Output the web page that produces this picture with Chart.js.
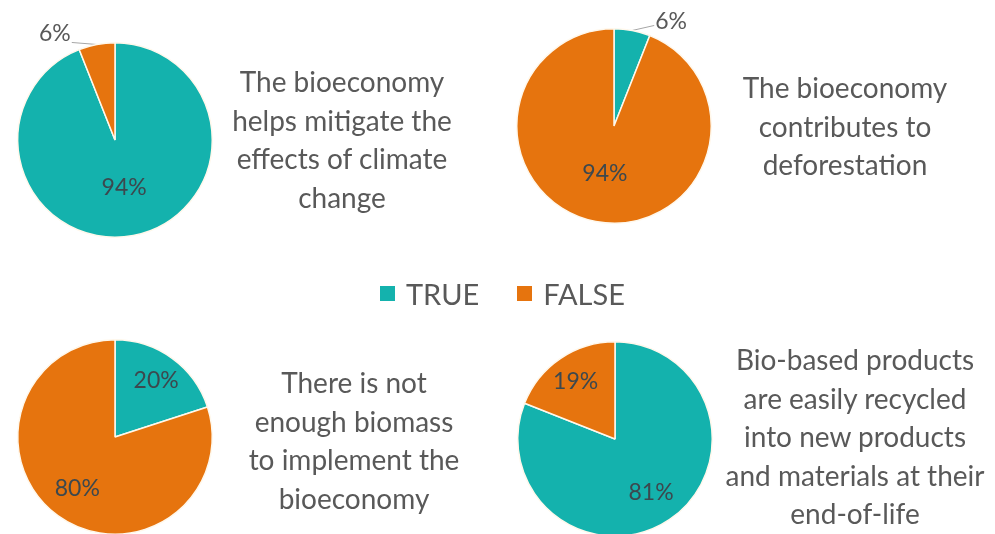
<!DOCTYPE html>
<html><head><meta charset="utf-8">
<script src="https://cdn.jsdelivr.net/npm/chart.js@4"></script>
<style>
html,body{margin:0;padding:0;background:#fff;width:995px;height:534px;overflow:hidden;position:relative;font-family:Lato,sans-serif;}
.pie{position:absolute;width:280px;height:280px;}
.txt{position:absolute;width:340px;text-align:center;color:#595959;font-size:28px;line-height:38.5px;}
#legend{position:absolute;left:5px;width:995px;top:273px;height:40px;display:flex;justify-content:center;align-items:center;color:#595959;font-size:29px;}
#legend span.sw{display:inline-block;width:15px;height:15px;margin-right:11px;}
#legend .item{display:flex;align-items:center;margin:0 19px;}
</style></head>
<body>
<canvas id="c1" class="pie" width="280" height="280" style="left:-25px;top:0px"></canvas>
<canvas id="c2" class="pie" width="280" height="280" style="left:474px;top:-14px"></canvas>
<canvas id="c3" class="pie" width="280" height="280" style="left:-25px;top:297px"></canvas>
<canvas id="c4" class="pie" width="280" height="280" style="left:475px;top:299px"></canvas>
<div class="txt" id="t1" style="left:172px;top:62px"></div>
<div class="txt" id="t2" style="left:675px;top:68px"></div>
<div class="txt" id="t3" style="left:184px;top:363px"></div>
<div class="txt" id="t4" style="left:685px;top:340px"></div>
<div id="legend"></div>
<script>
const categories = ["TRUE", "FALSE"];
const colors = ["#14B2AD", "#E6740E"];
const statements = [
  ["The bioeconomy", "helps mitigate the", "effects of climate", "change"],
  ["The bioeconomy", "contributes to", "deforestation"],
  ["There is not", "enough biomass", "to implement the", "bioeconomy"],
  ["Bio-based products", "are easily recycled", "into new products", "and materials at their", "end-of-life"]
];
const valuesMitigate = [94, 6];
const valuesDeforest = [6, 94];
const valuesBiomass = [20, 80];
const valuesRecycled = [81, 19];
const allValues = [valuesMitigate, valuesDeforest, valuesBiomass, valuesRecycled];

statements.forEach((lines, i) => {
  const el = document.getElementById('t' + (i + 1));
  lines.forEach(l => { const d = document.createElement('div'); d.textContent = l; el.appendChild(d); });
});
const lg = document.getElementById('legend');
categories.forEach((c, i) => {
  const it = document.createElement('div'); it.className = 'item';
  const sw = document.createElement('span'); sw.className = 'sw'; sw.style.background = colors[i];
  const tx = document.createElement('span'); tx.textContent = c;
  it.appendChild(sw); it.appendChild(tx); lg.appendChild(it);
});

const labelPlugin = {
  id: 'pieLabels',
  beforeDatasetsDraw(chart) {
    const ctx = chart.ctx;
    const meta = chart.getDatasetMeta(0);
    const ds = chart.data.datasets[0];
    meta.data.forEach((arc, i) => {
      const v = ds.data[i];
      if (v >= 10) return;
      const p = arc.getProps(['x','y','startAngle','endAngle','outerRadius'], true);
      const mid = (p.startAngle + p.endAngle) / 2;
      const px = p.x + Math.cos(mid) * p.outerRadius, py = p.y + Math.sin(mid) * p.outerRadius;
      const left = Math.cos(mid) < 0;
      ctx.save();
      ctx.strokeStyle = '#A6A6A6'; ctx.lineWidth = 1;
      ctx.beginPath(); ctx.moveTo(px, py); ctx.lineTo(px + (left ? -25 : 22), py - (left ? 2 : 5)); ctx.stroke();
      ctx.restore();
    });
  },
  afterDatasetsDraw(chart) {
    const ctx = chart.ctx;
    const meta = chart.getDatasetMeta(0);
    const ds = chart.data.datasets[0];
    ctx.save();
    ctx.font = '23px Lato';
    meta.data.forEach((arc, i) => {
      const v = ds.data[i];
      const txt = v + '%';
      const p = arc.getProps(['x','y','startAngle','endAngle','outerRadius'], true);
      const mid = (p.startAngle + p.endAngle) / 2;
      if (v < 10) {
        const px = p.x + Math.cos(mid) * p.outerRadius, py = p.y + Math.sin(mid) * p.outerRadius;
        const left = Math.cos(mid) < 0;
        ctx.fillStyle = '#595959';
        ctx.textBaseline = 'alphabetic';
        ctx.textAlign = left ? 'right' : 'left';
        ctx.fillText(txt, px + (left ? -26 : 23), py + (left ? -3 : -1));
      } else {
        const f = v > 90 ? 0.5 : (v > 50 ? 0.66 : 0.72);
        const tx = p.x + Math.cos(mid) * p.outerRadius * f;
        const ty = p.y + Math.sin(mid) * p.outerRadius * f;
        ctx.fillStyle = '#3C484E';
        ctx.textAlign = 'center'; ctx.textBaseline = 'middle';
        ctx.fillText(txt, tx, ty);
      }
    });
    ctx.restore();
  }
};

allValues.forEach((vals, i) => {
  new Chart(document.getElementById('c' + (i + 1)), {
    type: 'pie',
    data: { labels: categories, datasets: [{ data: vals, backgroundColor: colors, borderColor: '#FFF8EC', borderWidth: 1.5 }] },
    options: {
      responsive: false, animation: false,
      layout: { padding: 42 },
      plugins: { legend: { display: false }, tooltip: { enabled: false } }
    },
    plugins: [labelPlugin]
  });
});
</script>
</body></html>
